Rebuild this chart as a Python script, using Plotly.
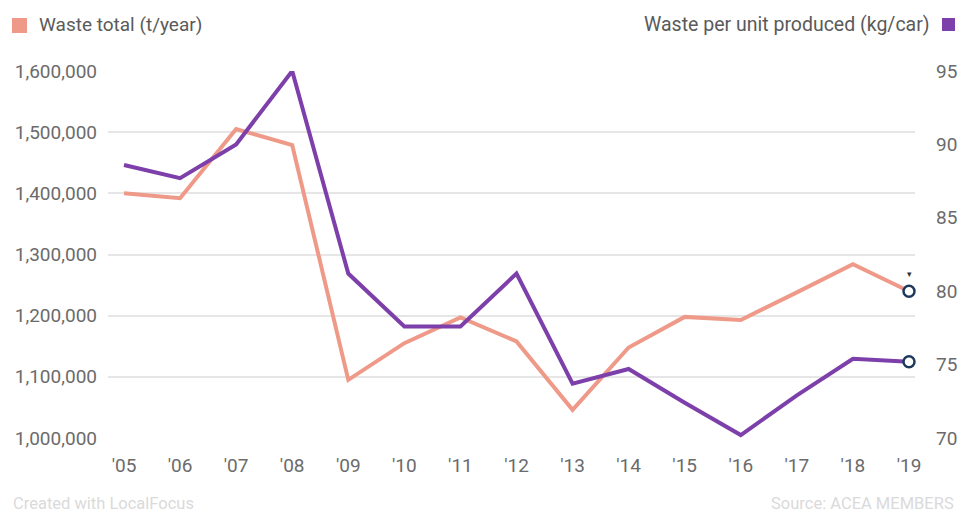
import plotly.graph_objects as go

years = [2005, 2006, 2007, 2008, 2009, 2010, 2011, 2012, 2013, 2014, 2015, 2016, 2017, 2018, 2019]
year_labels = ["'05", "'06", "'07", "'08", "'09", "'10", "'11", "'12", "'13", "'14", "'15", "'16", "'17", "'18", "'19"]
waste_total = [1400000, 1392000, 1505000, 1479000, 1095000, 1155000, 1197000, 1158000, 1046000,
               1148000, 1198000, 1193000, 1238000, 1284000, 1240000]
waste_per_car = [88.6, 87.7, 90.0, 95.0, 81.2, 77.6, 77.6, 81.2, 73.7, 74.7, 72.4, 70.2, 72.9, 75.4, 75.2]
left_ticks = [1000000, 1100000, 1200000, 1300000, 1400000, 1500000, 1600000]
right_ticks = [70, 75, 80, 85, 90, 95]

PINK = "#ef9a89"
PURPLE = "#7d3fa9"
NAVY = "#1d3a5c"
TICK = "#6b6b6b"
FONT = "Roboto"
FS = 19

# plot area in pixels
L, R, T, B = 108, 915, 71, 438
W, H = 962, 513


def px(x):
    return (x - L) / (R - L)


def py(y):
    return (B - y) / (B - T)


fig = go.Figure()
fig.add_trace(go.Scatter(x=years, y=waste_total, mode="lines", yaxis="y",
                         line=dict(color=PINK, width=4), cliponaxis=False,
                         name="Waste total (t/year)"))
fig.add_trace(go.Scatter(x=years, y=waste_per_car, mode="lines", yaxis="y2",
                         line=dict(color=PURPLE, width=4), cliponaxis=False,
                         name="Waste per unit produced (kg/car)"))
# end-point markers
fig.add_trace(go.Scatter(x=[years[-1]], y=[waste_total[-1]], mode="markers", yaxis="y",
                         marker=dict(size=11, color="white", line=dict(color=NAVY, width=2.5)),
                         cliponaxis=False))
fig.add_trace(go.Scatter(x=[years[-1]], y=[waste_per_car[-1]], mode="markers", yaxis="y2",
                         marker=dict(size=11, color="white", line=dict(color=NAVY, width=2.5)),
                         cliponaxis=False))

annotations = [
    dict(text="Waste total (t/year)", x=px(37), y=py(24), xref="paper", yref="paper",
         xanchor="left", yanchor="middle", showarrow=False,
         font=dict(family=FONT, size=FS, color="#5a5a5a")),
    dict(text="Waste per unit produced (kg/car)", x=px(932), y=py(24), xref="paper", yref="paper",
         xanchor="right", yanchor="middle", showarrow=False,
         font=dict(family=FONT, size=19.5, color="#5a5a5a")),
    dict(text="Created with LocalFocus", x=px(11), y=py(503), xref="paper", yref="paper",
         xanchor="left", yanchor="middle", showarrow=False,
         font=dict(family=FONT, size=16.5, color="#dadada")),
    dict(text="Source: ACEA MEMBERS", x=px(956), y=py(503), xref="paper", yref="paper",
         xanchor="right", yanchor="middle", showarrow=False,
         font=dict(family=FONT, size=16.5, color="#dadada")),
    dict(text="▾", x=px(909), y=py(274), xref="paper", yref="paper",
         xanchor="center", yanchor="middle", showarrow=False,
         font=dict(family="DejaVu Sans", size=9, color="#333")),
]

shapes = [
    dict(type="rect", xref="paper", yref="paper", x0=px(12), x1=px(27), y0=py(18), y1=py(33),
         fillcolor=PINK, line=dict(width=0)),
    dict(type="rect", xref="paper", yref="paper", x0=px(942), x1=px(955), y0=py(18), y1=py(31),
         fillcolor=PURPLE, line=dict(width=0)),
]

fig.update_layout(
    width=W, height=H,
    margin=dict(l=L, r=W - R, t=T, b=H - B, autoexpand=False),
    paper_bgcolor="white", plot_bgcolor="white",
    showlegend=False,
    font=dict(family=FONT, size=FS, color=TICK),
    xaxis=dict(range=[2005 - 16 / 56.07, 2019 + 6 / 56.07], tickvals=years, ticktext=year_labels,
               showgrid=False, zeroline=False, showline=False, ticks="",
               ticklabelstandoff=14, automargin=False,
               tickfont=dict(family=FONT, size=FS, color=TICK)),
    yaxis=dict(range=[1000000, 1600000], tickvals=left_ticks,
               ticktext=[f"{v:,}" for v in left_ticks],
               showgrid=True, gridcolor="#e6e6e6", gridwidth=1.5, zeroline=False, showline=False,
               ticks="", ticklen=0, ticklabelstandoff=10, automargin=False,
               tickfont=dict(family=FONT, size=FS, color=TICK)),
    yaxis2=dict(range=[70, 95], tickvals=right_ticks, overlaying="y", side="right",
                showgrid=False, zeroline=False, showline=False, ticks="",
                ticklabelstandoff=20, automargin=False,
                tickfont=dict(family=FONT, size=FS, color=TICK)),
    annotations=annotations,
    shapes=shapes,
)

fig.write_html("out.html")
